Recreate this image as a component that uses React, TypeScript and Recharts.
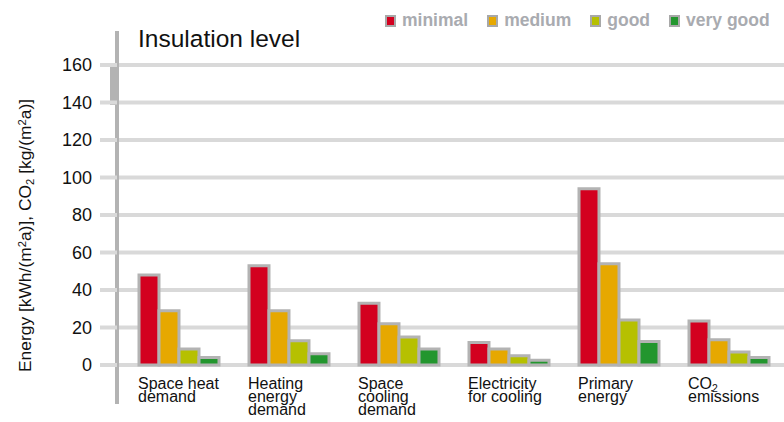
import React from "react";
import { BarChart, Bar, XAxis, YAxis, CartesianGrid } from "recharts";

// tick labels (one string per line, "₂" is drawn as subscript)
const categories = [
  ["Space heat", "demand"],
  ["Heating", "energy", "demand"],
  ["Space", "cooling", "demand"],
  ["Electricity", "for cooling"],
  ["Primary", "energy"],
  ["CO₂", "emissions"],
];

const minimal = [48, 53, 33, 12, 94, 23.5];
const medium = [29, 29, 22, 8.5, 54, 13.5];
const good = [8.5, 13, 15, 5, 24, 7];
const veryGood = [4, 6, 8.5, 2.5, 12.5, 4];

const yTicks = [0, 20, 40, 60, 80, 100, 120, 140, 160];

const series = [
  { key: "minimal", name: "minimal", color: "#d3001f" },
  { key: "medium", name: "medium", color: "#e6a800" },
  { key: "good", name: "good", color: "#b6c000" },
  { key: "veryGood", name: "very good", color: "#23962e" },
];

const data = categories.map((lines, i) => ({
  name: lines.join(" "),
  lines,
  minimal: minimal[i],
  medium: medium[i],
  good: good[i],
  veryGood: veryGood[i],
}));

const FONT = '"Liberation Sans", Arial, Helvetica, sans-serif';
const GRID = "#d9d9d9";
const AXIS = "#b3b3b3";

// splits "CO₂" style text into tspans with sub/superscripts
function richText(s: string) {
  const parts: React.ReactNode[] = [];
  let buf = "";
  let k = 0;
  for (const ch of s) {
    if (ch === "₂" || ch === "²") {
      if (buf) parts.push(<tspan key={k++}>{buf}</tspan>);
      buf = "";
      parts.push(
        <tspan key={k++} fontSize="0.65em" baselineShift={ch === "₂" ? "-25%" : "45%"}>
          2
        </tspan>
      );
    } else {
      buf += ch;
    }
  }
  if (buf) parts.push(<tspan key={k++}>{buf}</tspan>);
  return parts;
}

function CategoryTick(props: any) {
  const { x, y, payload, index } = props;
  const lines = categories[index] ?? [payload.value];
  return (
    <text x={x - 41} y={y + 23.5} fontSize={16} fill="#111" textAnchor="start">
      {lines.map((l, i) => (
        <tspan key={i} x={x - 41} dy={i === 0 ? 0 : 13}>
          {richText(l)}
        </tspan>
      ))}
    </text>
  );
}

function Legendbox() {
  return (
    <div
      style={{
        position: "absolute",
        top: 9,
        left: 385,
        display: "flex",
        alignItems: "center",
        gap: 19,
        fontFamily: FONT,
        fontWeight: "bold",
        fontSize: 17.5,
        color: "#a9abb0",
        lineHeight: "22px",
      }}
    >
      {series.map((s) => (
        <div key={s.key} style={{ display: "flex", alignItems: "center" }}>
          <span
            style={{
              display: "inline-block",
              width: 11,
              height: 12,
              boxSizing: "border-box",
              border: "2px solid #a8a8a8",
              background: s.color,
              marginRight: 6,
              marginTop: 2,
            }}
          />
          {s.name}
        </div>
      ))}
    </div>
  );
}

export default function App() {
  return (
    <div style={{ position: "absolute", left: 0, top: 0, width: 784, height: 422, fontFamily: FONT }}>
      <BarChart
        width={784}
        height={422}
        data={data}
        margin={{ top: 65, right: 0, left: 0, bottom: 0 }}
        barGap={0}
        barSize={20}
      >
        <CartesianGrid vertical={false} stroke={GRID} strokeWidth={4} />
        <XAxis
          dataKey="name"
          axisLine={false}
          tickLine={false}
          tickSize={0}
          tickMargin={0}
          height={57}
          padding={{ left: 7, right: 0 }}
          interval={0}
          tick={<CategoryTick />}
        />
        <YAxis
          width={117}
          domain={[0, 160]}
          ticks={yTicks}
          axisLine={false}
          tickSize={17}
          tickMargin={8}
          tickLine={{ stroke: GRID, strokeWidth: 4 }}
          tick={{ fontSize: 18, fill: "#111" }}
          interval={0}
        />
        {series.map((s) => (
          <Bar
            key={s.key}
            dataKey={s.key}
            name={s.name}
            fill={s.color}
            stroke={AXIS}
            strokeWidth={3}
            isAnimationActive={false}
          />
        ))}
        {/* axis line with break marker */}
        <line x1={117} y1={31} x2={117} y2={404} stroke={AXIS} strokeWidth={4} />
        <rect x={110} y={63} width={8} height={42} fill={AXIS} />
        <text x={138} y={47} fontSize={24.5} fill="#111">
          Insulation level
        </text>
        <text x={31} y={372} fontSize={17.4} fill="#111" textAnchor="start" transform="rotate(-90 31 372)">
          {richText("Energy [kWh/(m²a)], CO₂ [kg/(m²a)]")}
        </text>
      </BarChart>
      <Legendbox />
    </div>
  );
}
